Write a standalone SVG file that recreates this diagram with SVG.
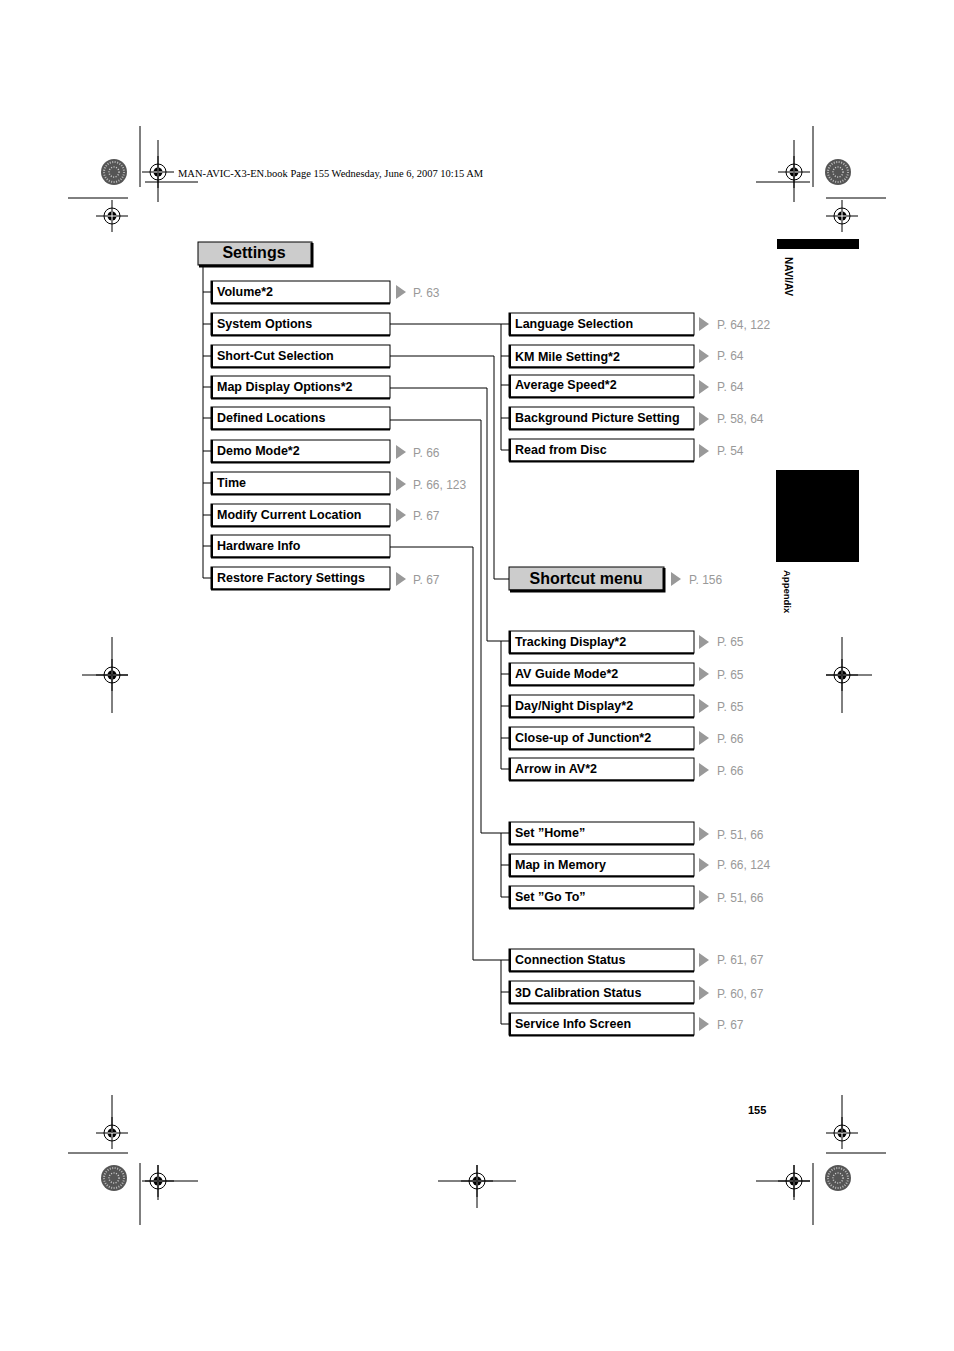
<svg xmlns="http://www.w3.org/2000/svg" width="954" height="1351" viewBox="0 0 954 1351">
<style>
.b{fill:#fff;stroke:#000;stroke-width:1}
.t{font-family:"Liberation Sans",Arial,sans-serif;font-weight:bold;font-size:12.5px;fill:#000}
.p{font-family:"Liberation Sans",Arial,sans-serif;font-size:12px;fill:#999}
.a{fill:#999}
.c{fill:none;stroke:#000;stroke-width:1}
.h{font-family:"Liberation Sans",Arial,sans-serif;font-weight:bold;font-size:16px;fill:#000}
.r{fill:none;stroke:#000;stroke-width:1}
</style>
<defs>
<g id="reg"><circle r="8" class="r"/><circle r="4.5" fill="#000"/><line x1="-16" y1="0" x2="16" y2="0" stroke="#000"/><line x1="0" y1="-16" x2="0" y2="16" stroke="#000"/><line x1="-4.5" y1="0" x2="4.5" y2="0" stroke="#fff"/><line x1="0" y1="-4.5" x2="0" y2="4.5" stroke="#fff"/></g>
<g id="sun"><circle r="13" fill="#555"/><circle r="10" fill="none" stroke="#bbb" stroke-width="2" stroke-dasharray="1 1.5"/><circle r="5" fill="none" stroke="#ccc" stroke-width="1.5" stroke-dasharray="1 1.5"/></g>
<g id="bx"><rect x="0" y="-11" width="179" height="22" class="b"/><line x1="1" y1="-11" x2="1" y2="12" stroke="#000" stroke-width="2"/><line x1="0" y1="11.5" x2="179" y2="11.5" stroke="#000" stroke-width="2"/></g>
<g id="bx2"><rect x="0" y="-11" width="185" height="22" class="b"/><line x1="1" y1="-11" x2="1" y2="12" stroke="#000" stroke-width="2"/><line x1="0" y1="11.5" x2="185" y2="11.5" stroke="#000" stroke-width="2"/></g>
<path id="ar" d="M0,-7 L10,0 L0,7 Z" class="a"/>
</defs>
<g id="marks">
<use href="#sun" x="114" y="172"/><use href="#sun" x="838" y="172"/><use href="#sun" x="114" y="1178"/><use href="#sun" x="838" y="1178"/>
<use href="#reg" x="158" y="172"/><use href="#reg" x="112" y="216"/><use href="#reg" x="794" y="172"/><use href="#reg" x="842" y="216"/>
<use href="#reg" x="112" y="675"/><use href="#reg" x="842" y="675"/><use href="#reg" x="112" y="1133"/><use href="#reg" x="842" y="1133"/>
<use href="#reg" x="158" y="1181"/><use href="#reg" x="477" y="1181"/><use href="#reg" x="794" y="1181"/>
<g stroke="#000"><line x1="140" y1="126" x2="140" y2="187"/><line x1="68" y1="198" x2="128" y2="198"/><line x1="158" y1="140" x2="158" y2="202"/><line x1="145" y1="182" x2="198" y2="182"/>
<line x1="813" y1="126" x2="813" y2="187"/><line x1="826" y1="198" x2="886" y2="198"/><line x1="756" y1="182" x2="810" y2="182"/><line x1="794" y1="140" x2="794" y2="202"/>
<line x1="112" y1="637" x2="112" y2="713"/><line x1="842" y1="637" x2="842" y2="713"/><line x1="82" y1="675" x2="128" y2="675"/><line x1="826" y1="675" x2="872" y2="675"/>
<line x1="112" y1="1095" x2="112" y2="1133"/><line x1="842" y1="1095" x2="842" y2="1133"/><line x1="68" y1="1153" x2="128" y2="1153"/><line x1="826" y1="1153" x2="886" y2="1153"/>
<line x1="140" y1="1163" x2="140" y2="1225"/><line x1="813" y1="1163" x2="813" y2="1225"/><line x1="145" y1="1181" x2="198" y2="1181"/><line x1="438" y1="1181" x2="516" y2="1181"/><line x1="756" y1="1181" x2="810" y2="1181"/><line x1="477" y1="1165" x2="477" y2="1208"/><line x1="158" y1="1165" x2="158" y2="1200"/><line x1="794" y1="1165" x2="794" y2="1200"/></g>
<text x="178" y="177" font-family="Liberation Serif,serif" font-size="10.5">MAN-AVIC-X3-EN.book  Page 155  Wednesday, June 6, 2007  10:15 AM</text>
</g>
<g id="tabs">
<rect x="777" y="239" width="82" height="10" fill="#000"/>
<rect x="776" y="470" width="83" height="92" fill="#000"/>
<text transform="translate(785,257) rotate(90)" font-family="Liberation Sans,Arial,sans-serif" font-weight="bold" font-size="10">NAVI/AV</text>
<text transform="translate(784,570) rotate(90)" font-family="Liberation Sans,Arial,sans-serif" font-weight="bold" font-size="9.5">Appendix</text>
<text x="748" y="1114" font-family="Liberation Sans,Arial,sans-serif" font-weight="bold" font-size="11">155</text>
</g>
<g id="connectors" class="c">
<path d="M203,265 V578 M203,292 H211 M203,324 H211 M203,356 H211 M203,387 H211 M203,418 H211 M203,451 H211 M203,483 H211 M203,515 H211 M203,546 H211 M203,578 H211"/>
<path d="M390,324 H509 M501,324 V450 M501,356 H509 M501,385 H509 M501,418 H509 M501,450 H509"/>
<path d="M390,356 H494 V579 H509"/>
<path d="M390,388 H487 V641 H509 M501,641 V769 M501,674 H509 M501,706 H509 M501,738 H509 M501,769 H509"/>
<path d="M390,420 H481 V833 H509 M501,833 V897 M501,865 H509 M501,897 H509"/>
<path d="M390,547 H473 V960 H509 M501,960 V1024 M501,992 H509 M501,1024 H509"/>
</g>
<g id="settings"><rect x="198" y="242" width="114" height="23" fill="#ccc" stroke="#000"/><path d="M312,243 V266 H199" fill="none" stroke="#000" stroke-width="3"/><text x="254" y="258" text-anchor="middle" class="h">Settings</text></g>
<g id="left">
<g id="n1"><use href="#bx" x="211" y="292"/><text x="217" y="296" class="t">Volume*2</text><use href="#ar" x="396" y="292"/><text x="413" y="297" class="p">P. 63</text></g>
<g id="n2"><use href="#bx" x="211" y="324"/><text x="217" y="328" class="t">System Options</text></g>
<g id="n3"><use href="#bx" x="211" y="356"/><text x="217" y="360" class="t">Short-Cut Selection</text></g>
<g id="n4"><use href="#bx" x="211" y="387"/><text x="217" y="391" class="t">Map Display Options*2</text></g>
<g id="n5"><use href="#bx" x="211" y="418"/><text x="217" y="422" class="t">Defined Locations</text></g>
<g id="n6"><use href="#bx" x="211" y="451"/><text x="217" y="455" class="t">Demo Mode*2</text><use href="#ar" x="396" y="452"/><text x="413" y="457" class="p">P. 66</text></g>
<g id="n7"><use href="#bx" x="211" y="483"/><text x="217" y="487" class="t">Time</text><use href="#ar" x="396" y="484"/><text x="413" y="489" class="p">P. 66, 123</text></g>
<g id="n8"><use href="#bx" x="211" y="515"/><text x="217" y="519" class="t">Modify Current Location</text><use href="#ar" x="396" y="515"/><text x="413" y="520" class="p">P. 67</text></g>
<g id="n9"><use href="#bx" x="211" y="546"/><text x="217" y="550" class="t">Hardware Info</text></g>
<g id="n10"><use href="#bx" x="211" y="578"/><text x="217" y="582" class="t">Restore Factory Settings</text><use href="#ar" x="396" y="579"/><text x="413" y="584" class="p">P. 67</text></g>
</g>
<g id="right">
<g id="r1"><use href="#bx2" x="509" y="324"/><text x="515" y="328" class="t">Language Selection</text><use href="#ar" x="699" y="324"/><text x="717" y="329" class="p">P. 64, 122</text></g>
<g id="r2"><use href="#bx2" x="509" y="356"/><text x="515" y="361" class="t">KM Mile Setting*2</text><use href="#ar" x="699" y="356"/><text x="717" y="360" class="p">P. 64</text></g>
<g id="r3"><use href="#bx2" x="509" y="386"/><text x="515" y="389" class="t">Average Speed*2</text><use href="#ar" x="699" y="387"/><text x="717" y="391" class="p">P. 64</text></g>
<g id="r4"><use href="#bx2" x="509" y="418"/><text x="515" y="422" class="t">Background Picture Setting</text><use href="#ar" x="699" y="419"/><text x="717" y="423" class="p">P. 58, 64</text></g>
<g id="r5"><use href="#bx2" x="509" y="450"/><text x="515" y="454" class="t">Read from Disc</text><use href="#ar" x="699" y="451"/><text x="717" y="455" class="p">P. 54</text></g>
<g id="shortcut"><rect x="509" y="567" width="155" height="23" fill="#ccc" stroke="#000"/><path d="M664,568 V591 H510" fill="none" stroke="#000" stroke-width="3"/><text x="586" y="584" text-anchor="middle" class="h">Shortcut menu</text><use href="#ar" x="671" y="579"/><text x="689" y="584" class="p">P. 156</text></g>
<g id="r6"><use href="#bx2" x="509" y="642"/><text x="515" y="646" class="t">Tracking Display*2</text><use href="#ar" x="699" y="642"/><text x="717" y="646" class="p">P. 65</text></g>
<g id="r7"><use href="#bx2" x="509" y="674"/><text x="515" y="678" class="t">AV Guide Mode*2</text><use href="#ar" x="699" y="674"/><text x="717" y="679" class="p">P. 65</text></g>
<g id="r8"><use href="#bx2" x="509" y="706"/><text x="515" y="710" class="t">Day/Night Display*2</text><use href="#ar" x="699" y="706"/><text x="717" y="711" class="p">P. 65</text></g>
<g id="r9"><use href="#bx2" x="509" y="738"/><text x="515" y="742" class="t">Close-up of Junction*2</text><use href="#ar" x="699" y="738"/><text x="717" y="743" class="p">P. 66</text></g>
<g id="r10"><use href="#bx2" x="509" y="769"/><text x="515" y="773" class="t">Arrow in AV*2</text><use href="#ar" x="699" y="770"/><text x="717" y="775" class="p">P. 66</text></g>
<g id="r11"><use href="#bx2" x="509" y="833"/><text x="515" y="837" class="t">Set ”Home”</text><use href="#ar" x="699" y="834"/><text x="717" y="839" class="p">P. 51, 66</text></g>
<g id="r12"><use href="#bx2" x="509" y="865"/><text x="515" y="869" class="t">Map in Memory</text><use href="#ar" x="699" y="865"/><text x="717" y="869" class="p">P. 66, 124</text></g>
<g id="r13"><use href="#bx2" x="509" y="897"/><text x="515" y="901" class="t">Set ”Go To”</text><use href="#ar" x="699" y="897"/><text x="717" y="902" class="p">P. 51, 66</text></g>
<g id="r14"><use href="#bx2" x="509" y="960"/><text x="515" y="964" class="t">Connection Status</text><use href="#ar" x="699" y="960"/><text x="717" y="964" class="p">P. 61, 67</text></g>
<g id="r15"><use href="#bx2" x="509" y="992"/><text x="515" y="997" class="t">3D Calibration Status</text><use href="#ar" x="699" y="993"/><text x="717" y="998" class="p">P. 60, 67</text></g>
<g id="r16"><use href="#bx2" x="509" y="1024"/><text x="515" y="1028" class="t">Service Info Screen</text><use href="#ar" x="699" y="1024"/><text x="717" y="1029" class="p">P. 67</text></g>
</g>
</svg>
